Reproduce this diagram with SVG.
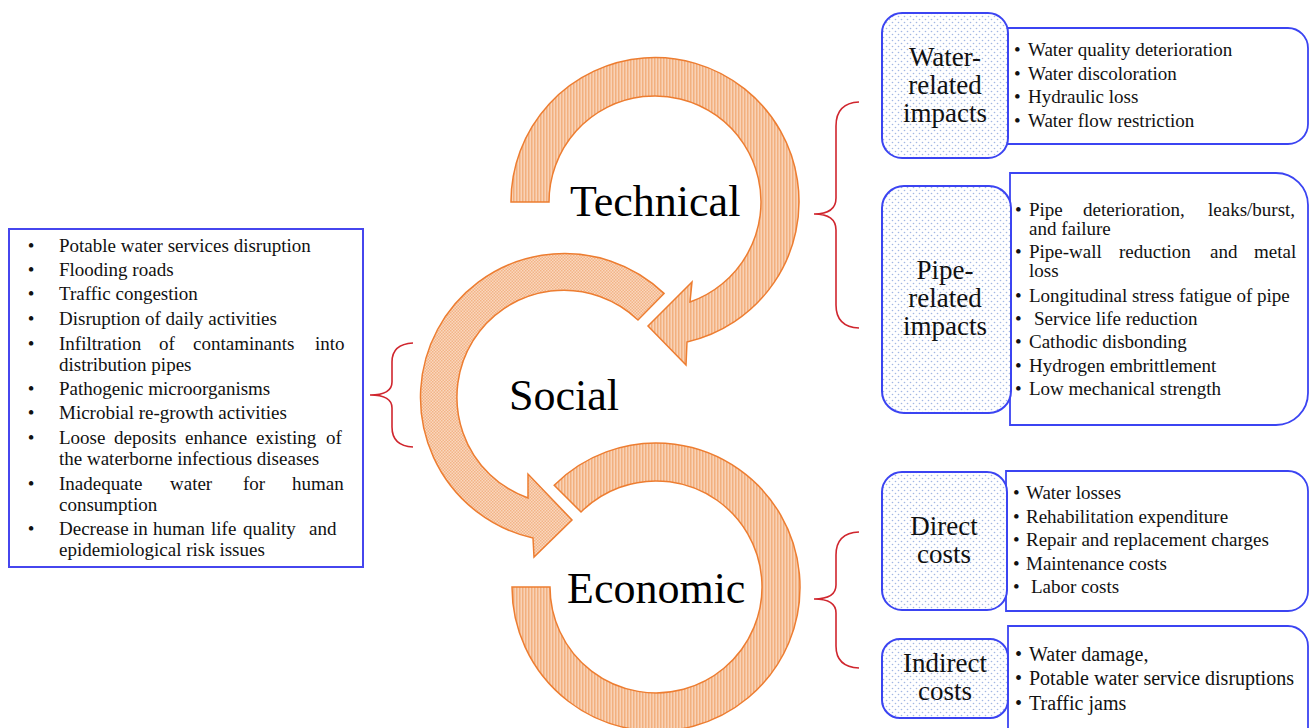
<svg xmlns="http://www.w3.org/2000/svg" width="1310" height="728" viewBox="0 0 1310 728">
<defs>
<pattern id="dots" width="6" height="6" patternUnits="userSpaceOnUse"><rect width="6" height="6" fill="#fff"/><circle cx="1.5" cy="1.5" r="0.8" fill="#A3B7E4"/><circle cx="4.5" cy="4.5" r="0.8" fill="#A3B7E4"/></pattern>
<pattern id="stripes" width="3" height="3" patternUnits="userSpaceOnUse"><rect width="3" height="3" fill="#F9D2B6"/><rect width="1.5" height="3" fill="#F2B07F"/></pattern>
<pattern id="checks" width="3" height="3" patternUnits="userSpaceOnUse"><rect width="3" height="3" fill="#FAD7BE"/><rect width="1.5" height="1.5" fill="#F2B487"/><rect x="1.5" y="1.5" width="1.5" height="1.5" fill="#F2B487"/></pattern>
<style>
.arc{stroke:#ED7D31;stroke-width:1.5;stroke-linejoin:miter}
.big{font-family:"Liberation Serif","Times New Roman",serif;font-size:44px;fill:#000}
.lbl{font-family:"Liberation Serif","Times New Roman",serif;font-size:27px;fill:#111;text-anchor:middle}
.t{font-family:"Liberation Serif","Times New Roman",serif;font-size:19px;fill:#111}
.t2{font-family:"Liberation Serif","Times New Roman",serif;font-size:20px;fill:#111}
.bl{text-anchor:middle}
.lbox{fill:url(#dots);stroke:#3B44F2;stroke-width:2}
.cbox{fill:#fff;stroke:#3B44F2;stroke-width:1.8}
.brace{fill:none;stroke:#D0262E;stroke-width:1.6}
</style>
</defs>

<g id="connectors">
<path class="brace" d="M859,102 Q836,103 836,126 L836,198 Q836,214 814,214 Q836,214 836,230 L836,305 Q836,327 859,328"/>
<path class="brace" d="M413,343 Q392,344 392,362 L392,382 Q392,395 370,395 Q392,395 392,408 L392,427 Q392,446 413,447"/>
<path class="brace" d="M859,532 Q836,533 836,555 L836,585 Q836,599 814,599 Q836,599 836,613 L836,646 Q836,667 859,668"/>
</g>

<g id="economic">
<path class="arc" fill="url(#stripes)" d="M512,587 A144,144 0 1 0 554.2,485.2 L581,512 A106,106 0 1 1 550,587 Z"/>
<text class="big" x="567" y="603">Economic</text>
</g>

<g id="social">
<path class="arc" fill="url(#checks)" d="M664,293.4 A144,144 0 1 0 533,538 L534,557 L572,520 L528,474 L528,498 A107,107 0 1 1 638,320 Z"/>
<text class="big" x="509" y="410">Social</text>
</g>

<g id="technical">
<path class="arc" fill="url(#stripes)" d="M511,202 A144,144 0 1 1 687,342 L686,365 L648,326 L692,282 L690,302 A106,106 0 1 0 549,202 Z"/>
<text class="big" x="570" y="216">Technical</text>
</g>

<g id="social-list">
<rect x="9" y="229" width="354" height="338" fill="#fff" stroke="#4646EE" stroke-width="2"/>
<g class="t bl">
<text x="31" y="252">•</text><text x="31" y="276">•</text><text x="31" y="300">•</text><text x="31" y="325">•</text><text x="31" y="350">•</text><text x="31" y="395">•</text><text x="31" y="419">•</text><text x="31" y="444">•</text><text x="31" y="490">•</text><text x="31" y="535">•</text>
</g>
<g class="t">
<text x="59" y="252">Potable water services disruption</text>
<text x="59" y="276">Flooding roads</text>
<text x="59" y="300">Traffic congestion</text>
<text x="59" y="325">Disruption of daily activities</text>
<text y="350"><tspan x="59">Infiltration</tspan><tspan x="159">of</tspan><tspan x="193">contaminants</tspan><tspan x="315">into</tspan></text>
<text x="59" y="371">distribution pipes</text>
<text x="59" y="395">Pathogenic microorganisms</text>
<text x="59" y="419">Microbial re-growth activities</text>
<text y="444"><tspan x="59">Loose</tspan><tspan x="114">deposits</tspan><tspan x="185">enhance</tspan><tspan x="256">existing</tspan><tspan x="326">of</tspan></text>
<text x="59" y="465">the waterborne infectious diseases</text>
<text y="490"><tspan x="59">Inadequate</tspan><tspan x="170">water</tspan><tspan x="243">for</tspan><tspan x="292">human</tspan></text>
<text x="59" y="511">consumption</text>
<text y="535"><tspan x="59">Decrease</tspan><tspan x="133">in</tspan><tspan x="153">human</tspan><tspan x="211">life</tspan><tspan x="243">quality</tspan><tspan x="309">and</tspan></text>
<text x="59" y="556">epidemiological risk issues</text>
</g>
</g>

<g id="water-related">
<path class="cbox" d="M1007,28 H1288 A20,20 0 0 1 1308,48 V124 A20,20 0 0 1 1288,144 H1007 Z"/>
<rect class="lbox" x="882" y="13" width="126" height="145" rx="20"/>
<text class="lbl" x="945" y="66">Water-</text>
<text class="lbl" x="945" y="94">related</text>
<text class="lbl" x="945" y="122">impacts</text>
<g class="t">
<text x="1014" y="56">•</text><text x="1028" y="56">Water quality deterioration</text>
<text x="1014" y="80">•</text><text x="1028" y="80">Water discoloration</text>
<text x="1014" y="103">•</text><text x="1028" y="103">Hydraulic loss</text>
<text x="1014" y="127">•</text><text x="1028" y="127">Water flow restriction</text>
</g>
</g>

<g id="pipe-related">
<path class="cbox" d="M1010,173 H1276 A32,32 0 0 1 1308,205 V393 A32,32 0 0 1 1276,425 H1010 Z"/>
<rect class="lbox" x="882" y="186" width="129" height="227" rx="22"/>
<text class="lbl" x="945" y="279">Pipe-</text>
<text class="lbl" x="945" y="307">related</text>
<text class="lbl" x="945" y="335">impacts</text>
<g class="t">
<text x="1015" y="216">•</text><text y="216"><tspan x="1029">Pipe</tspan><tspan x="1083">deterioration,</tspan><tspan x="1208">leaks/burst,</tspan></text>
<text x="1029" y="235">and failure</text>
<text x="1015" y="258">•</text><text y="258"><tspan x="1029">Pipe-wall</tspan><tspan x="1119">reduction</tspan><tspan x="1210">and</tspan><tspan x="1254">metal</tspan></text>
<text x="1029" y="277">loss</text>
<text x="1015" y="302">•</text><text x="1029" y="302">Longitudinal stress fatigue of pipe</text>
<text x="1015" y="325">•</text><text x="1034" y="325">Service life reduction</text>
<text x="1015" y="348">•</text><text x="1029" y="348">Cathodic disbonding</text>
<text x="1015" y="372">•</text><text x="1029" y="372">Hydrogen embrittlement</text>
<text x="1015" y="395">•</text><text x="1029" y="395">Low mechanical strength</text>
</g>
</g>

<g id="direct-costs">
<path class="cbox" d="M1006,471 H1288 A20,20 0 0 1 1308,491 V591 A20,20 0 0 1 1288,611 H1006 Z"/>
<rect class="lbox" x="882" y="472" width="125" height="138" rx="20"/>
<text class="lbl" x="944" y="535">Direct</text>
<text class="lbl" x="944" y="563">costs</text>
<g class="t">
<text x="1013" y="499">•</text><text x="1026" y="499">Water losses</text>
<text x="1013" y="523">•</text><text x="1026" y="523">Rehabilitation expenditure</text>
<text x="1013" y="546">•</text><text x="1026" y="546">Repair and replacement charges</text>
<text x="1013" y="570">•</text><text x="1026" y="570">Maintenance costs</text>
<text x="1013" y="593">•</text><text x="1031" y="593">Labor costs</text>
</g>
</g>

<g id="indirect-costs">
<path class="cbox" d="M1008,740 V626 H1288 A20,20 0 0 1 1308,646 V740"/>
<rect class="lbox" x="882" y="639" width="126" height="79" rx="18"/>
<text class="lbl" x="945" y="672">Indirect</text>
<text class="lbl" x="945" y="700">costs</text>
<g class="t2">
<text x="1015" y="661">•</text><text x="1029" y="661">Water damage,</text>
<text x="1015" y="685">•</text><text x="1029" y="685">Potable water service disruptions</text>
<text x="1015" y="710">•</text><text x="1029" y="710">Traffic jams</text>
</g>
</g>
</svg>
